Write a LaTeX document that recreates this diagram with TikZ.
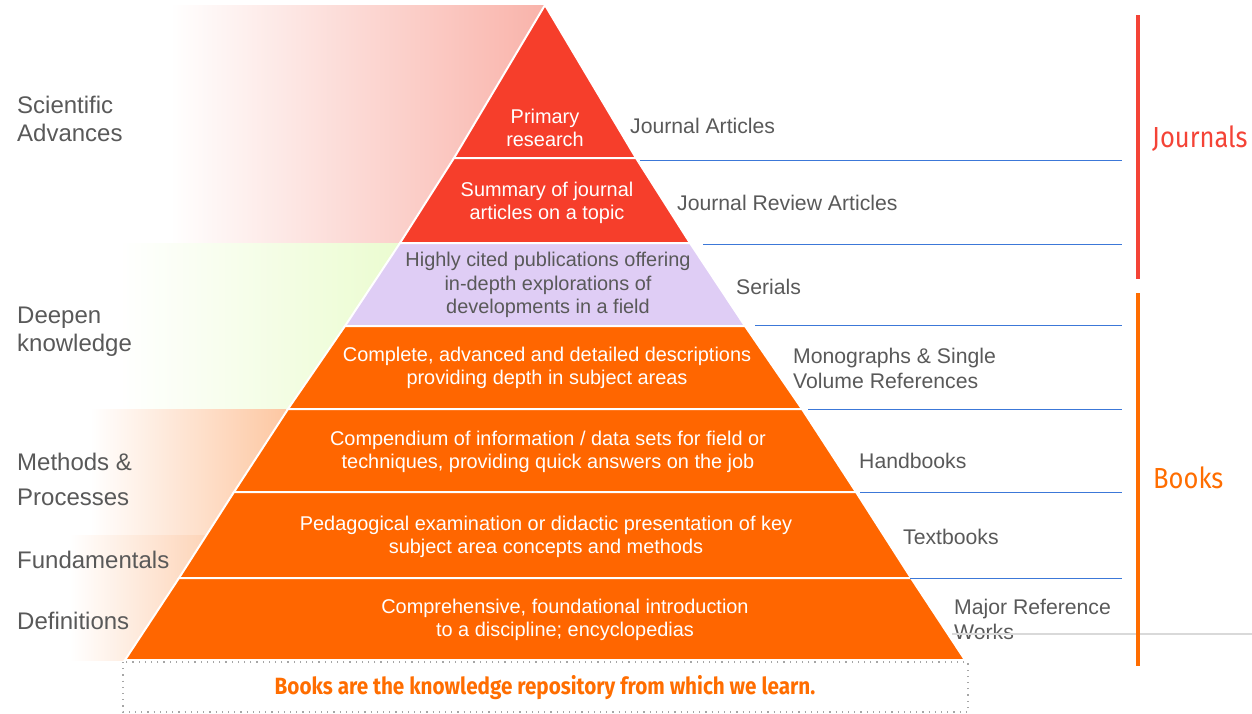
\documentclass[tikz,border=0pt]{standalone}
\usepackage{fontspec}
\setmainfont{Liberation Sans}
\newfontfamily\condfont[FakeStretch=0.88]{Fira Sans}
\definecolor{layred}{HTML}{F63E2B}
\definecolor{layorange}{HTML}{FF6600}
\definecolor{laylav}{HTML}{DFCDF5}
\definecolor{labgray}{HTML}{595959}
\definecolor{divblue}{HTML}{3C78D8}
\definecolor{barred}{HTML}{F44336}
\definecolor{barorange}{HTML}{FF6D00}
\definecolor{fadered}{HTML}{F9B3AA}
\definecolor{fadegreen}{HTML}{EBFCD0}
\definecolor{fadeorange}{HTML}{FDC6A0}
\definecolor{fadepeach}{HTML}{FDD3B6}
\definecolor{rulegray}{HTML}{D9D9D9}

\begin{document}
\begin{tikzpicture}[x=1pt, y=-1pt,
    lvl/.style={draw=white, line width=2pt, line join=miter},
    inner/.style={text=white, align=center, inner sep=0pt, font=\fontsize{19.9}{23.5}\selectfont},
    side/.style={anchor=west, text=labgray, align=left, inner sep=0pt, font=\fontsize{21.2}{25}\selectfont},
    leftlab/.style={anchor=west, text=labgray, align=left, inner sep=0pt, font=\fontsize{24}{28}\selectfont},
    divider/.style={draw=divblue, line width=1pt},
    bar/.style={line width=3.5pt},
    group/.style={anchor=west, inner sep=0pt, font=\condfont\fontsize{29}{32}\selectfont}
  ]
  \useasboundingbox (0,0) rectangle (1252,713);

  % faded bands on the left
  \shade[left color=white, right color=fadered] (170,5) rectangle (545,243);
  \shade[left color=white, right color=fadegreen] (120,243) rectangle (400,409);
  \shade[left color=white, right color=fadeorange] (90,409) rectangle (290,535);
  \shade[left color=white, right color=fadepeach] (70,535) rectangle (210,660);

  % pyramid
  \filldraw[lvl, fill=layred] (545,5) -- (636,158) -- (454,158) -- cycle;
  \filldraw[lvl, fill=layred] (454,158) -- (636,158) -- (690,243) -- (400,243) -- cycle;
  \filldraw[lvl, fill=laylav] (400,243) -- (690,243) -- (745,326) -- (345,326) -- cycle;
  \filldraw[lvl, fill=layorange] (345,326) -- (745,326) -- (802,409) -- (288,409) -- cycle;
  \filldraw[lvl, fill=layorange] (288,409) -- (802,409) -- (856,492) -- (234,492) -- cycle;
  \filldraw[lvl, fill=layorange] (234,492) -- (856,492) -- (911,578) -- (179,578) -- cycle;
  \filldraw[lvl, fill=layorange] (179,578) -- (911,578) -- (965,660) -- (125,660) -- cycle;

  \node[inner] (prim) at (545,128) {Primary\\research};
  \node[inner] (summ) at (547,203) {Summary of journal\\articles on a topic};
  \node[inner, text=labgray] (cited) at (548,285) {Highly cited publications offering\\in-depth explorations of\\developments in a field};
  \node[inner] (compl) at (547,368) {Complete, advanced and detailed descriptions\\providing depth in subject areas};
  \node[inner] (compd) at (548,452) {Compendium of information / data sets for field or\\techniques, providing quick answers on the job};
  \node[inner] (pedag) at (546,537) {Pedagogical examination or didactic presentation of key\\subject area concepts and methods};
  \node[inner] (found) at (565,620) {Comprehensive, foundational introduction\\to a discipline; encyclopedias};

  % left labels
  \node[leftlab] (sci) at (17,119) {Scientific\\Advances};
  \node[leftlab] (deep) at (17,332) {Deepen\\knowledge};
  \node[leftlab, font=\fontsize{24}{35}\selectfont] (meth) at (17,479.5) {Methods \&\\Processes};
  \node[leftlab] (fund) at (17,560) {Fundamentals};
  \node[leftlab] (defn) at (17,621) {Definitions};

  % right labels
  \node[side] (jart) at (630,126) {Journal Articles};
  \node[side] (jrev) at (677,203) {Journal Review Articles};
  \node[side] (serials) at (736,287) {Serials};
  \node[side] (mono) at (793,368.5) {Monographs \& Single\\Volume References};
  \node[side] (hand) at (859,461) {Handbooks};
  \node[side] (textb) at (903,537) {Textbooks};
  \node[side] (mrw) at (954,619.5) {Major Reference\\Works};

  % dividers
  \draw[divider] (640,160) -- (1122,160);
  \draw[divider] (703,244) -- (1122,244);
  \draw[divider] (755,325) -- (1122,325);
  \draw[divider] (808,409) -- (1122,409);
  \draw[divider] (860,492) -- (1122,492);
  \draw[divider] (910,578) -- (1122,578);
  \draw[draw=rulegray, line width=2pt] (952,634) -- (1252,634);

  % brackets
  \draw[bar, barred] (1138,15) -- (1138,279);
  \draw[bar, barorange] (1138,293) -- (1138,666);
  \node[group, text=barred] (journals) at (1152,139) {Journals};
  \node[group, text=barorange] (books) at (1153,478) {Books};

  % note
  \draw[draw=gray!70, line width=1.5pt, dash pattern=on 1.2pt off 5pt] (123,662) rectangle (968,712);
  \node[text=barorange, font=\condfont\bfseries\fontsize{23.5}{26}\selectfont] (note) at (545,688) {Books are the knowledge repository from which we learn.};
\end{tikzpicture}
\end{document}
